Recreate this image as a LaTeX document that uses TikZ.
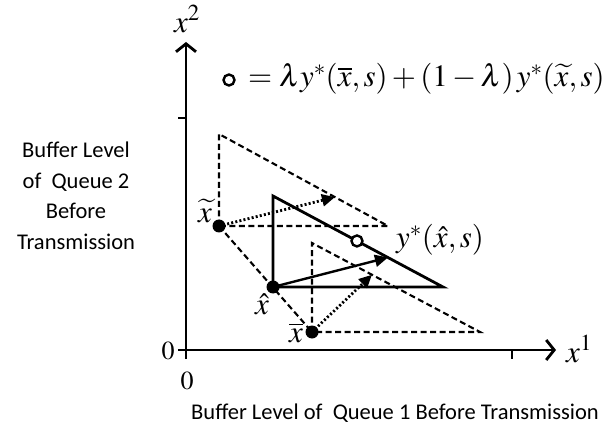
\documentclass[tikz,border=0pt]{standalone}
\usepackage{mathptmx}
\usepackage[no-math]{fontspec}
\setmainfont{Liberation Serif}
\newfontfamily\labelfont{Carlito}
\usetikzlibrary{arrows.meta,calc}
\begin{document}
\begin{tikzpicture}[x=1pt,y=-1pt,
  axisline/.style={line width=2.8pt},
  axisarrow/.style={line width=2.8pt,-{Straight Barb[length=8pt,width=20pt,line width=2.8pt]}},
  solidedge/.style={line width=2.8pt,line join=miter},
  dashedge/.style={line width=2.1pt,dash pattern=on 6pt off 3.5pt},
  dotarrow/.style={line width=2.8pt,dash pattern=on 2pt off 2.2pt,-{Triangle[length=13pt,width=12pt]}},
  solidarrow/.style={line width=2.4pt,-{Triangle[length=13pt,width=12pt]}},
  point/.style={circle,fill=black,inner sep=0pt,minimum size=13pt},
  opencircle/.style={circle,draw=black,line width=2.4pt,fill=white,inner sep=0pt,minimum size=11pt},
  mathlabel/.style={inner sep=0pt,font=\fontsize{31}{34}\selectfont},
  zerolabel/.style={inner sep=0pt,font=\fontsize{26}{30}\selectfont},
  wordlabel/.style={inner sep=0pt,align=center,font=\labelfont\fontsize{22.5}{30.5}\selectfont}]
\useasboundingbox (0,0) rectangle (615,430);

% axes
\coordinate (O) at (186,350);
\coordinate (ybot) at (186,359);
\coordinate (ytop) at (186,42);
\coordinate (xleft) at (178,350);
\coordinate (xright) at (556,350);
\coordinate (ytickL) at (178,118);
\coordinate (ytickR) at (186,118);
\coordinate (xtickT) at (512,350);
\coordinate (xtickB) at (512,359);
\draw[axisarrow] (ybot) -- (ytop);
\draw[axisarrow] (xleft) -- (xright);
\draw[axisline] (ytickL) -- (ytickR);
\draw[axisline] (xtickT) -- (xtickB);

\node[mathlabel] (lx2) at (187,19) {$x^2$};
\node[mathlabel,anchor=west] (lx1) at (566,349) {$x^1$};
\node[zerolabel] (z1) at (168,351) {$0$};
\node[zerolabel] (z2) at (187,381) {$0$};

% triangle points
\coordinate (xt) at (219,226);
\coordinate (xtT) at (219,134);
\coordinate (xtR) at (388,226);
\coordinate (xh) at (273,287);
\coordinate (xhT) at (273,196);
\coordinate (xhR) at (443,287);
\coordinate (xb) at (312,332);
\coordinate (xbT) at (312,243);
\coordinate (xbR) at (480,332);

% dashed triangles
\draw[dashedge] (xt) -- (xtT) -- (xtR) -- cycle;
\draw[dashedge] (xb) -- (xbT) -- (xbR) -- cycle;
\draw[dashedge] (xt) -- (xb);
% solid triangle
\draw[solidedge] (xh) -- (xhT) -- (xhR) -- cycle;

% arrows
\coordinate (a1) at ($(xtT)!0.686!(xtR)$);
\coordinate (a2) at ($(xhT)!0.676!(xhR)$);
\coordinate (a3) at ($(xbT)!0.357!(xbR)$);
\coordinate (cm) at ($(xhT)!0.494!(xhR)$);
\draw[dotarrow] (xt) -- (a1);
\draw[solidarrow] (xh) -- (a2);
\draw[dotarrow] (xb) -- (a3);

% points
\node[point] (pxt) at (xt) {};
\node[point] (pxh) at (xh) {};
\node[point] (pxb) at (xb) {};
\node[opencircle] (pc) at (cm) {};

\node[mathlabel] (lxt) at (205,211) {$\widetilde{x}$};
\node[mathlabel] (lxh) at (262,304) {$\hat{x}$};
\node[mathlabel] (lxb) at (296,333) {$\overline{x}$};
\node[mathlabel,anchor=west] (lys) at (396,240) {$y^*(\hat{x},s)$};

% legend
\node[opencircle] (legc) at (229,80) {};
\node[mathlabel,anchor=west] (legt) at (248,79) {$=\lambda y^*(\overline{x},s)+(1-\lambda)\,y^*(\widetilde{x},s)$};

% axis titles
\node[wordlabel] (ytitle) at (76,196) {Buffer Level\\of\ \ Queue 2\\Before\\Transmission};
\node[wordlabel] (xtitle) at (395,413) {Buffer Level of\ \ Queue 1 Before Transmission};
\end{tikzpicture}
\end{document}
